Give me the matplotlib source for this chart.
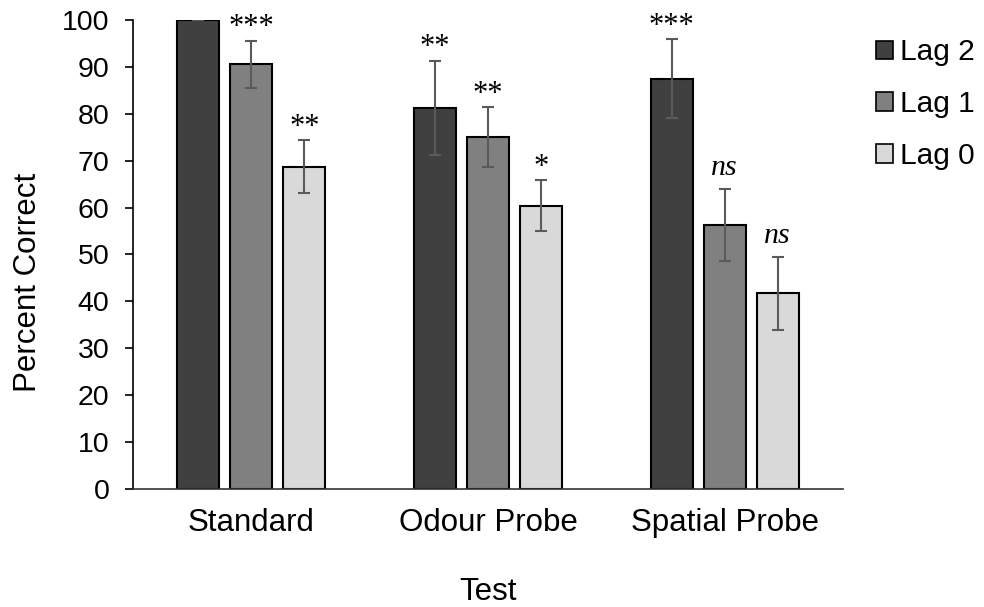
import matplotlib
matplotlib.use("Agg")
import matplotlib.pyplot as plt
import numpy as np
from matplotlib.patches import Patch

# Data
tests = ["Standard", "Odour Probe", "Spatial Probe"]
series = ["Lag 2", "Lag 1", "Lag 0"]
lag2 = [100.0, 81.25, 87.5]
lag1 = [90.6, 75.0, 56.25]
lag0 = [68.75, 60.4, 41.7]
err2 = [0.0, 10.1, 8.5]
err1 = [5.0, 6.4, 7.7]
err0 = [5.6, 5.4, 7.8]
sig2 = ["", "**", "***"]
sig1 = ["***", "**", "ns"]
sig0 = ["**", "*", "ns"]
yticks = list(range(0, 101, 10))

colors = ["#404040", "#808080", "#d9d9d9"]

plt.rcParams["font.family"] = ["Liberation Sans", "DejaVu Sans"]

fig = plt.figure(figsize=(9.84, 6.07), dpi=100)
ax = fig.add_axes([0.1352, 0.1944, 0.7215, 0.7727])

x = np.arange(len(tests))
width = 0.178
step = 0.224

for i, (vals, errs, sigs, col, name) in enumerate(
        zip([lag2, lag1, lag0], [err2, err1, err0], [sig2, sig1, sig0], colors, series)):
    pos = x + (i - 1) * step
    ax.bar(pos, vals, width, color=col, edgecolor="black", linewidth=1.5,
           label=name, zorder=2)
    ax.errorbar(pos, vals, yerr=errs, fmt="none", ecolor="#5a5a5a",
                elinewidth=1.5, capsize=4, capthick=1.5, zorder=3)
    for p, v, e, s in zip(pos, vals, errs, sigs):
        if not s:
            continue
        if s == "ns":
            ax.text(p, v + e + 3.0, s, ha="center", va="baseline", fontsize=21.5,
                    family="Liberation Serif", style="italic", clip_on=False)
        else:
            ax.text(p, v + e + 1.1, s, ha="center", va="baseline", fontsize=22,
                    family="Liberation Serif", clip_on=False)

ax.set_xlim(-0.5, 2.5)
ax.set_ylim(0, 100)
ax.set_yticks(yticks)
ax.set_xticks(x)
ax.set_xticklabels(tests)
ax.tick_params(axis="y", labelsize=20.5, length=6, width=1.2, color="black", pad=11)
ax.tick_params(axis="x", labelsize=22.5, length=0, pad=13.5)

for s in ["top", "right"]:
    ax.spines[s].set_visible(False)
ax.spines["left"].set_linewidth(1.2)
ax.spines["bottom"].set_linewidth(1.2)
ax.spines["bottom"].set_color("#333333")

ax.set_ylabel("Percent Correct", fontsize=22.5)
ax.yaxis.set_label_coords(-0.127, 0.441)
ax.set_xlabel("Test", fontsize=22.5)
ax.xaxis.set_label_coords(0.5, -0.188)

handles = [Patch(facecolor=c, edgecolor="black", linewidth=1.2) for c in colors]
fig.legend(handles, series, loc="upper left", bbox_to_anchor=(0.890, 0.937),
           frameon=False, fontsize=21.5, handlelength=0.57, handleheight=0.57,
           handletextpad=0.25, labelspacing=0.80, borderpad=0, borderaxespad=0)

fig.savefig("out.png", dpi=100)
